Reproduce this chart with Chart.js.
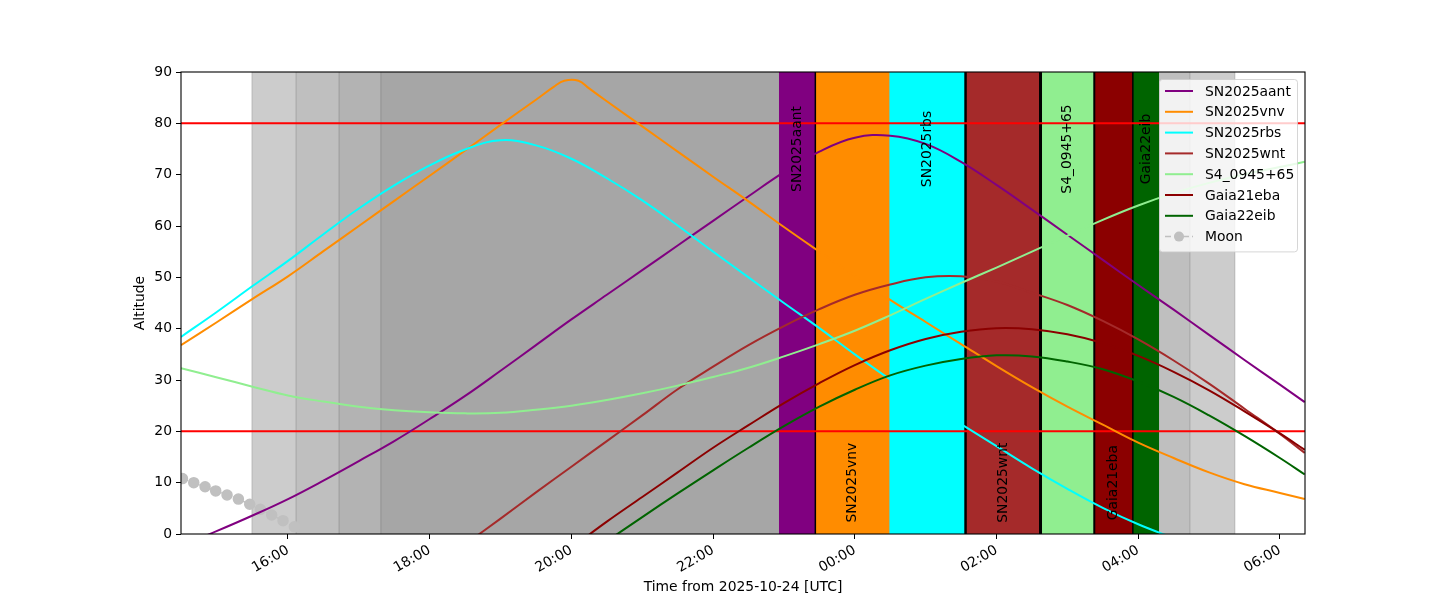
<!DOCTYPE html>
<html>
<head>
<meta charset="utf-8">
<title>Target altitudes</title>
<script src="https://cdn.jsdelivr.net/npm/chart.js@4.4.0/dist/chart.umd.min.js"></script>
<style>
    html, body { margin: 0; padding: 0; background: #fff; }
    #wrap { width: 1450px; height: 600px; }
</style>
</head>
<body>
<div id="wrap"><canvas id="altChart" width="1450" height="600"></canvas></div>
<script>
// hours from 2025-10-24 00:00 UTC, values above 24 are the next morning
const times = [14.49, 15, 15.5, 16, 16.5, 17, 17.5, 18, 18.5, 19, 19.5, 20, 20.5, 21, 21.5, 22,
    22.5, 23, 23.5, 24, 24.5, 25, 25.5, 26, 26.5, 27, 27.5, 28, 28.5, 29, 29.5, 30, 30.35];
const vnvTimes = [14.49, 15, 15.5, 16, 16.5, 17, 17.5, 18, 18.5, 19, 19.5, 19.75, 19.9, 20.1, 20.25,
    20.5, 21, 21.5, 22, 22.5, 23, 23.5, 24, 24.5, 25, 25.5, 26, 26.5, 27, 27.5, 28, 28.5, 29, 29.5, 30, 30.35];
const moonTimes = [14.51, 14.67, 14.83, 14.98, 15.14, 15.30, 15.46, 15.61, 15.77, 15.93, 16.09];

const aant = [-2.3, 0.6, 3.6, 6.8, 10.4, 14.2, 18.1, 22.4, 26.9, 31.8, 36.8, 41.8, 46.6, 51.4, 56.2, 61.0,
    65.8, 70.5, 74.5, 77.2, 77.6, 76.0, 72.5, 68.0, 63.2, 58.3, 53.4, 48.5, 43.7, 38.8, 33.9, 29.1, 25.7];
const vnv = [36.8, 41.3, 45.8, 50.2, 55.1, 60.0, 64.9, 69.8, 74.7, 79.7, 84.6, 87.1, 88.3, 88.3, 86.8,
    84.3, 79.4, 74.5, 69.6, 64.8, 59.8, 55.0, 50.3, 45.6, 41.3, 37.0, 32.7, 28.6, 24.8, 21.3, 17.8, 14.8, 12.0, 9.7, 8.0, 6.8];
const rbs = [38.4, 43.3, 48.3, 53.2, 58.4, 63.4, 67.9, 71.8, 74.9, 76.7, 75.7, 73.1, 69.3, 65.0, 60.1, 55.0,
    50.0, 45.0, 40.1, 35.0, 30.1, 25.7, 21.4, 17.1, 12.8, 8.8, 5.1, 1.9, -0.8, null, null, null, null];
const wnt = [null, null, null, null, null, null, null, null, -2.0, 3.0, 8.1, 13.1, 18.1, 23.1, 28.2, 32.6,
    36.8, 40.5, 43.8, 46.6, 48.6, 50.0, 50.2, 49.2, 47.0, 44.6, 41.5, 37.9, 33.8, 29.3, 24.4, 19.5, 15.8];
const s4 = [32.3, 30.5, 28.7, 27.0, 25.8, 24.8, 24.1, 23.7, 23.5, 23.6, 24.2, 25.0, 26.1, 27.4, 28.9, 30.6,
    32.4, 34.6, 37.0, 39.6, 42.6, 45.8, 48.9, 51.9, 55.0, 58.1, 61.2, 64.0, 66.4, 68.4, 70.1, 71.5, 72.5];
const eba = [null, null, null, null, null, null, null, null, null, null, null, -2.7, 2.4, 7.2, 12.0, 16.8,
    21.2, 25.5, 29.4, 32.9, 35.8, 38.0, 39.4, 40.1, 39.9, 38.9, 37.2, 34.7, 31.6, 28.0, 23.9, 19.6, 16.4];
const eib = [null, null, null, null, null, null, null, null, null, null, null, null, -1.4, 3.3, 7.9, 12.4,
    16.8, 21.0, 24.8, 28.1, 30.9, 32.8, 34.1, 34.8, 34.6, 33.6, 32.1, 29.7, 26.7, 23.1, 19.1, 14.8, 11.6];
const moonAlt = [10.8, 10.0, 9.2, 8.4, 7.6, 6.8, 5.8, 4.8, 3.7, 2.6, 1.4];

// observing windows, one per target
const targetNames = ['SN2025aant', 'SN2025vnv', 'SN2025rbs', 'SN2025wnt', 'S4_0945+65', 'Gaia21eba', 'Gaia22eib'];
const windowStart = [22.93, 23.443, 24.49, 25.563, 26.621, 27.38, 27.924];
const windowEnd = [23.443, 24.49, 25.563, 26.621, 27.38, 27.924, 28.294];
const labelAlt = [75, 10, 75, 10, 75, 10, 75];

// sunset/sunrise, civil, nautical, astronomical twilight
const twilightStart = [15.49, 16.113, 16.72, 17.31];
const twilightEnd = [29.366, 28.73, 28.1, 27.5];

const altLimits = [20, 80];
const tickHours = [16, 18, 20, 22, 24, 26, 28, 30];

const targetColors = ['#800080', '#ff8c00', '#00ffff', '#a52a2a', '#90ee90', '#8b0000', '#006400'];
const twilightColors = ['#cccccc', '#bfbfbf', '#b3b3b3', '#a6a6a6'];
const separatorWidths = [1.5, 0, 2.5, 3, 2, 1.5, 0];
const FONT = '"DejaVu Sans", sans-serif';

function toPoints(xs, ys) {
    return xs.map((x, i) => ({ x, y: ys[i] })).filter(p => p.y !== null);
}

function formatHour(value) {
    return String(value % 24).padStart(2, '0') + ':00';
}

const series = [aant, vnv, rbs, wnt, s4, eba, eib];
const datasets = series.map((values, i) => ({
    label: targetNames[i],
    data: toPoints(i === 1 ? vnvTimes : times, values),
    borderColor: targetColors[i],
    borderWidth: 2,
    pointRadius: 0,
    tension: 0.4,
    order: 10 - i,
}));

datasets.push({
    label: 'Moon',
    data: toPoints(moonTimes, moonAlt),
    borderColor: '#c0c0c0',
    borderWidth: 1.5,
    borderDash: [6, 3],
    pointRadius: 5,
    pointBackgroundColor: '#c0c0c0',
    pointBorderColor: '#c0c0c0',
    tension: 0,
    order: 20,
});

const nightPlugin = {
    id: 'nightPlugin',
    beforeDatasetsDraw(chart) {
        const { ctx, chartArea: a, scales: { x, y } } = chart;
        const h = a.bottom - a.top;
        ctx.save();
        ctx.beginPath();
        ctx.rect(a.left, a.top, a.right - a.left, h);
        ctx.clip();

        twilightStart.forEach((start, i) => {
            const x0 = x.getPixelForValue(start);
            const x1 = x.getPixelForValue(twilightEnd[i]);
            ctx.fillStyle = twilightColors[i];
            ctx.fillRect(x0, a.top, x1 - x0, h);
            ctx.strokeStyle = 'rgba(0,0,0,0.13)';
            ctx.lineWidth = 1.2;
            [x0, x1].forEach(px => {
                ctx.beginPath();
                ctx.moveTo(px, a.top);
                ctx.lineTo(px, a.bottom);
                ctx.stroke();
            });
        });

        windowStart.forEach((start, i) => {
            const x0 = x.getPixelForValue(start);
            const x1 = x.getPixelForValue(windowEnd[i]);
            ctx.fillStyle = targetColors[i];
            ctx.fillRect(x0, a.top, x1 - x0, h);
        });
        windowEnd.forEach((end, i) => {
            if (!separatorWidths[i]) return;
            const px = x.getPixelForValue(end);
            ctx.strokeStyle = '#000';
            ctx.lineWidth = separatorWidths[i];
            ctx.beginPath();
            ctx.moveTo(px, a.top);
            ctx.lineTo(px, a.bottom);
            ctx.stroke();
        });

        altLimits.forEach(v => {
            const py = y.getPixelForValue(v);
            ctx.strokeStyle = '#ff0000';
            ctx.lineWidth = 2;
            ctx.beginPath();
            ctx.moveTo(a.left, py);
            ctx.lineTo(a.right, py);
            ctx.stroke();
        });
        ctx.restore();
    },
    afterDatasetsDraw(chart) {
        const { ctx, chartArea: a, scales: { x, y } } = chart;
        ctx.save();

        // target names inside their windows
        ctx.font = '13.9px ' + FONT;
        ctx.fillStyle = '#000';
        ctx.textAlign = 'center';
        ctx.textBaseline = 'middle';
        targetNames.forEach((name, i) => {
            const cx = (x.getPixelForValue(windowStart[i]) + x.getPixelForValue(windowEnd[i])) / 2;
            const cy = y.getPixelForValue(labelAlt[i]);
            ctx.save();
            ctx.translate(cx, cy);
            ctx.rotate(-Math.PI / 2);
            ctx.fillText(name, 0, 0);
            ctx.restore();
        });

        // axes frame
        ctx.strokeStyle = '#000';
        ctx.lineWidth = 1.1;
        ctx.strokeRect(a.left, a.top, a.right - a.left, a.bottom - a.top);

        // legend
        const items = chart.data.datasets;
        const lx = a.right - 145.5, ly = a.top + 7.5;
        const lw = 138, rowH = 20.8;
        const lh = items.length * rowH + 6;
        ctx.beginPath();
        ctx.roundRect(lx, ly, lw, lh, 3);
        ctx.fillStyle = 'rgba(255,255,255,0.8)';
        ctx.fill();
        ctx.strokeStyle = 'rgba(204,204,204,0.8)';
        ctx.lineWidth = 1;
        ctx.stroke();

        ctx.textAlign = 'left';
        items.forEach((ds, i) => {
            const ry = ly + 11.5 + i * rowH;
            ctx.strokeStyle = ds.borderColor;
            ctx.lineWidth = ds.borderWidth;
            ctx.setLineDash(ds.borderDash || []);
            ctx.beginPath();
            ctx.moveTo(lx + 5.5, ry);
            ctx.lineTo(lx + 33.5, ry);
            ctx.stroke();
            ctx.setLineDash([]);
            if (ds.pointRadius) {
                ctx.fillStyle = ds.pointBackgroundColor;
                ctx.beginPath();
                ctx.arc(lx + 19.5, ry, ds.pointRadius, 0, Math.PI * 2);
                ctx.fill();
            }
            ctx.fillStyle = '#000';
            ctx.fillText(ds.label, lx + 45.5, ry + 1);
        });
        ctx.restore();
    }
};

Chart.defaults.font.family = FONT;
Chart.defaults.font.size = 13.9;
Chart.defaults.color = '#000';

new Chart(document.getElementById('altChart'), {
    type: 'line',
    data: { datasets },
    options: {
        responsive: false,
        animation: false,
        devicePixelRatio: 1,
        layout: { padding: { left: 121, right: 145, top: 72, bottom: 0 } },
        plugins: {
            legend: { display: false },
            tooltip: { enabled: false },
        },
        scales: {
            x: {
                type: 'linear',
                min: 14.49,
                max: 30.354,
                afterBuildTicks: scale => { scale.ticks = tickHours.map(v => ({ value: v })); },
                afterFit: scale => { scale.height = 66; },
                ticks: {
                    autoSkip: false,
                    minRotation: 30,
                    maxRotation: 30,
                    padding: 3,
                    callback: value => formatHour(value),
                },
                grid: { drawOnChartArea: false, tickLength: 5, color: '#000' },
                border: { display: false },
                title: {
                    display: true,
                    text: 'Time from 2025-10-24 [UTC]',
                    padding: { top: 0, bottom: 4 },
                },
            },
            y: {
                min: 0,
                max: 90,
                afterFit: scale => { scale.width = 60; },
                ticks: { stepSize: 10, padding: 4 },
                grid: { drawOnChartArea: false, tickLength: 5, color: '#000' },
                border: { display: false },
                title: {
                    display: true,
                    text: 'Altitude',
                    padding: { top: 11, bottom: 0 },
                },
            },
        },
    },
    plugins: [nightPlugin],
});
</script>
</body>
</html>
